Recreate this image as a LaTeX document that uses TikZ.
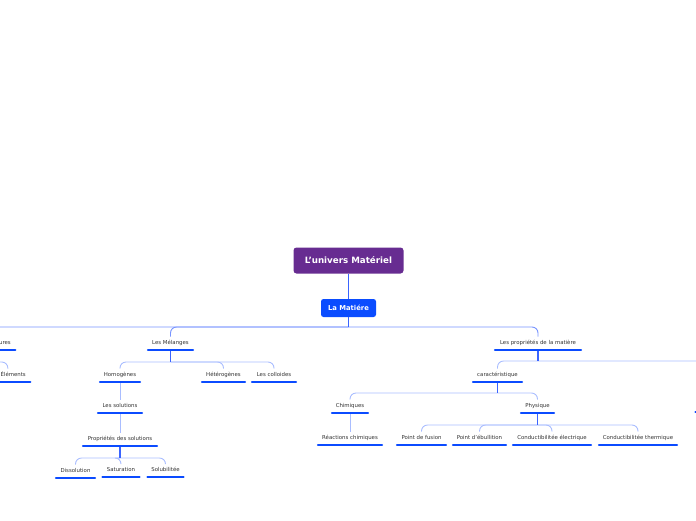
\documentclass[tikz,border=0pt]{standalone}
\usepackage{fontspec}
\setmainfont{DejaVu Sans}
\definecolor{rootpurple}{HTML}{672C91}
\definecolor{mblue}{HTML}{0A4CFF}
\definecolor{ulblue}{HTML}{0B4BFF}
\definecolor{stemblue}{HTML}{3A64FF}
\definecolor{busblue}{HTML}{A9BDFF}
\definecolor{mainbus}{HTML}{7894FF}
\definecolor{txt}{HTML}{333333}
\tikzset{
  leaf/.style={anchor=south, inner xsep=0pt, inner ysep=4pt, text height=4pt, text depth=1pt,
    font=\fontsize{5.4}{6}\selectfont, text=txt},
  edgeleaf/.style={leaf, inner xsep=5.5pt},
  ul/.style={draw=ulblue, line width=2.2pt, line cap=round, shorten <=1.1pt, shorten >=1.1pt},
  conn/.style={draw=busblue, line width=0.9pt, rounded corners=6pt},
  mainconn/.style={draw=mainbus, line width=0.9pt, rounded corners=6pt},
  stemline/.style={draw=stemblue, line width=1.1pt},
  rootbox/.style={rectangle, rounded corners=3pt, fill=rootpurple, text=white,
    minimum width=110pt, minimum height=26pt, inner sep=0pt,
    font=\fontsize{8.7}{10}\selectfont\bfseries},
  subbox/.style={rectangle, rounded corners=2.5pt, fill=mblue, text=white,
    minimum width=55pt, minimum height=18pt, inner sep=0pt,
    font=\fontsize{6.8}{8}\selectfont\bfseries}
}
\begin{document}
\begin{tikzpicture}[x=1pt,y=-1pt]
\useasboundingbox (0,0) rectangle (696,520);
% main boxes
\node[rootbox] (root) at (348.5,260.5) {L'univers Matériel};
\node[subbox] (matiere) at (348.5,308) {La Matiére};
% level 1
\node[edgeleaf, anchor=south east] (pures) at (16.5,350) {Substances pures};
\node[leaf, minimum width=47pt] (melanges) at (170.5,350) {Les Mélanges};
\node[leaf, minimum width=88pt] (proprietes) at (538,350) {Les propriétés de la matière};
% level 2
\node[edgeleaf, anchor=south east] (elements) at (31.5,382) {Les Éléments};
\node[leaf, minimum width=42pt] (homogenes) at (120,382) {Homogènes};
\node[leaf, minimum width=45pt] (heterogenes) at (223.5,382) {Hétérogènes};
\node[leaf, minimum width=46pt] (colloides) at (274,382) {Les colloides};
\node[leaf, minimum width=51pt] (caract) at (497.5,382) {caractéristique};
% level 3
\node[leaf, minimum width=46pt] (solutions) at (120,413) {Les solutions};
\node[leaf, minimum width=38pt] (chimiques) at (350,413) {Chimiques};
\node[leaf, minimum width=35pt] (physique) at (537.5,413) {Physique};
% level 4
\node[leaf, minimum width=76pt] (propsol) at (120,446) {Propriétés des solutions};
\node[leaf, minimum width=66pt] (reactions) at (350,445) {Réactions chimiques};
\node[leaf, minimum width=51pt] (fusion) at (421.5,445) {Point de fusion};
\node[leaf, minimum width=55pt] (ebullition) at (479.5,445) {Point d'ébullition};
\node[leaf, minimum width=80pt] (electrique) at (552,445) {Conductibilitée électrique};
\node[leaf, minimum width=80pt] (thermique) at (638,445) {Conductibilitée thermique};
% level 5
\node[leaf, minimum width=41pt] (dissolution) at (75.5,478) {Dissolution};
\node[leaf, minimum width=39pt] (saturation) at (121,477) {Saturation};
\node[leaf, minimum width=38pt] (solubilite) at (165.5,477) {Solubilitée};
% off-canvas pieces
\coordinate (offright) at (770,376);
\coordinate (offul) at (695.5,412);
\coordinate (offulend) at (730,412);
% bus points
\coordinate (b-mat) at (348.5,327);
\coordinate (b-pur) at (pures.south |- 0,362);
\coordinate (b-mel) at (170.5,362);
\coordinate (b-pro) at (538,361);
\coordinate (b-car) at (497.5,393);
\coordinate (b-sol) at (120,458);
\coordinate (b-phy) at (537.5,425);
% connectors
\draw[stemline] (root.south) -- (matiere.north);
\draw[mainconn] (b-mat) -| (pures.north);
\draw[mainconn] (b-mat) -| (melanges.north);
\draw[mainconn] (b-mat) -| (proprietes.north);
\draw[stemline] (matiere.south) -- (b-mat);
\draw[conn] (b-pur) -| (elements.north);
\draw[stemline] (pures.south) -- (b-pur);
\draw[conn] (b-mel) -| (homogenes.north);
\draw[conn] (b-mel) -| (heterogenes.north);
\draw[conn] (b-mel) -| (colloides.north);
\draw[stemline] (melanges.south) -- (b-mel);
\draw[conn] (b-pro) -| (caract.north);
\draw[conn] (b-pro) -| (offright);
\draw[stemline] (proprietes.south) -- (b-pro);
\draw[conn] (homogenes.south) -- (solutions.north);
\draw[conn] (solutions.south) -- (propsol.north);
\draw[conn] (b-sol) -| (dissolution.north);
\draw[conn] (b-sol) -| (saturation.north);
\draw[conn] (b-sol) -| (solubilite.north);
\draw[stemline] (propsol.south) -- (b-sol);
\draw[conn] (b-car) -| (chimiques.north);
\draw[conn] (b-car) -| (physique.north);
\draw[stemline] (caract.south) -- (b-car);
\draw[conn] (chimiques.south) -- (reactions.north);
\draw[conn] (b-phy) -| (fusion.north);
\draw[conn] (b-phy) -| (ebullition.north);
\draw[conn] (b-phy) -| (electrique.north);
\draw[conn] (b-phy) -| (thermique.north);
\draw[stemline] (physique.south) -- (b-phy);
% underlines
\foreach \n in {pures,melanges,proprietes,elements,homogenes,heterogenes,colloides,caract,
  solutions,chimiques,physique,propsol,reactions,fusion,ebullition,electrique,thermique,
  dissolution,saturation,solubilite}
  \draw[ul] (\n.south west) -- (\n.south east);
\draw[ul, shorten <=0pt] (offul) -- (offulend);
\end{tikzpicture}
\end{document}
